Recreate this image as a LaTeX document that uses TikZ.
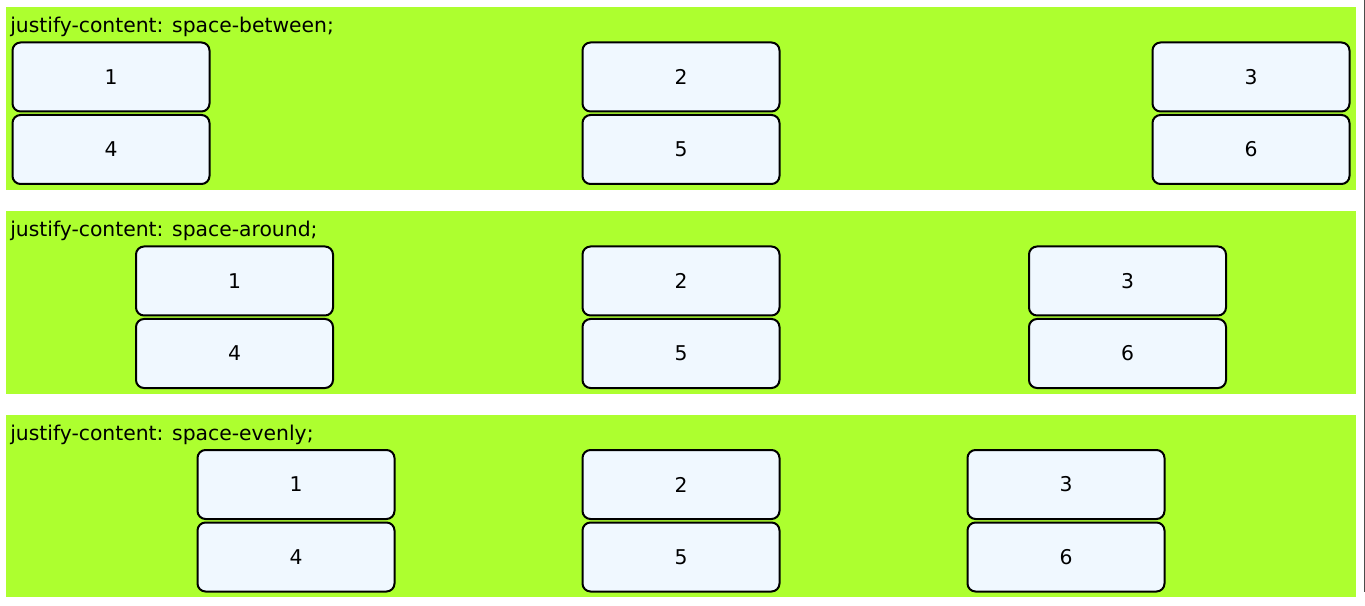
\documentclass[tikz,border=0pt]{standalone}
\usepackage{fontspec}
\setmainfont{DejaVu Sans}
\usepackage{tikz}
\definecolor{panelgreen}{HTML}{ADFF2F}
\definecolor{boxblue}{HTML}{F0F8FF}

\begin{document}
\begin{tikzpicture}[x=0.75pt,y=-0.75pt,
  item/.style={rectangle,draw=black,line width=1.5pt,fill=boxblue,rounded corners=6pt,
    minimum width=147.75pt,minimum height=51.75pt,inner sep=0pt,font=\fontsize{15.25}{18}\selectfont},
  title/.style={anchor=base west,inner sep=0pt,font=\fontsize{15.25}{18}\selectfont}]
\useasboundingbox (0,0) rectangle (1365,606);
%panels
\fill[panelgreen] (6,7) rectangle (1355.5,190.5);
\fill[panelgreen] (6,211) rectangle (1355.5,393.5);
\fill[panelgreen] (6,414.5) rectangle (1355.5,597);
\draw[gray!60!black,line width=0.75pt] (1364.5,0)--(1364.5,592);
%space-between
\path (10,33) node(la)[title]{justify-content: space-between;}
(111,77) node(a1)[item]{1}
(681,77) node(a2)[item]{2}
(1251,77) node(a3)[item]{3}
(111,149.5) node(a4)[item]{4}
(681,149.5) node(a5)[item]{5}
(1251,149.5) node(a6)[item]{6};
%space-around
\path (10,237) node(lb)[title]{justify-content: space-around;}
(234.5,281) node(b1)[item]{1}
(681,281) node(b2)[item]{2}
(1127.5,281) node(b3)[item]{3}
(234.5,353.5) node(b4)[item]{4}
(681,353.5) node(b5)[item]{5}
(1127.5,353.5) node(b6)[item]{6};
%space-evenly
\path (10,440) node(lc)[title]{justify-content: space-evenly;}
(296,484.5) node(c1)[item]{1}
(681,484.5) node(c2)[item]{2}
(1066,484.5) node(c3)[item]{3}
(296,557) node(c4)[item]{4}
(681,557) node(c5)[item]{5}
(1066,557) node(c6)[item]{6};

\end{tikzpicture}
\end{document}
